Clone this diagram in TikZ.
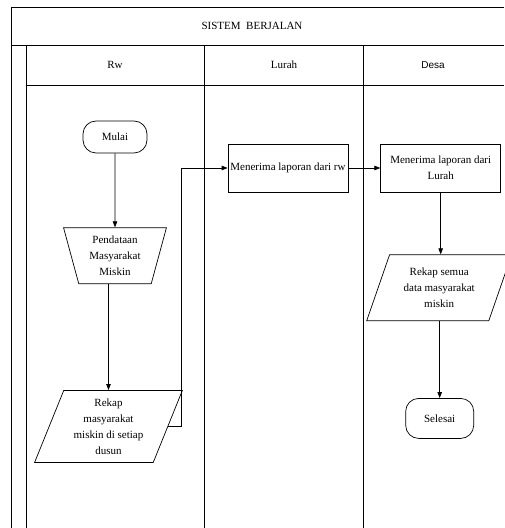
\documentclass[tikz,border=0pt]{standalone}
\usepackage{fontspec}
\setmainfont{Liberation Serif}
\newfontfamily\headsans{Liberation Sans}
\usepackage{tikz}
\usetikzlibrary{positioning, arrows.meta, shapes.geometric, calc}

\begin{document}
\begin{tikzpicture}[
    x=1pt, y=1pt,
    font=\fontsize{11}{16}\selectfont,
    lane/.style={line width=0.9pt},
    box/.style={draw, line width=0.7pt, minimum height=48pt, minimum width=120pt, inner sep=1pt, align=center},
    term/.style={box, rounded corners=13pt},
    manual/.style={box, trapezium, trapezium stretches=true, trapezium left angle=75, trapezium right angle=75, shape border rotate=180},
    io/.style={box, trapezium, trapezium stretches=true, trapezium left angle=68, trapezium right angle=112},
    arr/.style={-{Triangle[length=6pt,width=4.5pt]}, line width=0.7pt},
]
\useasboundingbox (0,0) rectangle (504,528);

% frame and lanes
\draw[lane] (504,521) -- (11,521) -- (11,0);
\draw[lane] (11,483) -- (504,483);
\draw[lane] (26,483) -- (26,0);
\draw[lane] (26,443) -- (504,443);
\draw[lane] (204,483) -- (204,0);
\draw[lane] (363,483) -- (363,0);

\node (title) at (252,502) {SISTEM\ \ BERJALAN};
\node (hrw) at (115,463) {Rw};
\node (hlurah) at (284,463) {Lurah};
\node (hdesa) at (433,463) {\headsans\fontsize{10}{12}\selectfont Desa};

% Rw
\node[term, minimum width=64pt, minimum height=32pt] (mulai) at (115,391) {Mulai};
\node[manual, minimum width=103pt, minimum height=56pt, below=74pt of mulai] (pendataan) {Pendataan\\Masyarakat\\Miskin};
\node[io, minimum width=148pt, minimum height=72pt, below=106pt of pendataan, xshift=-6.5pt] (rekapdusun) {Rekap\\masyarakat\\miskin di setiap\\dusun};

% Lurah
\node[box] (terimarw) at (288,360) {Menerima laporan dari rw};

% Desa
\node[box, right=32pt of terimarw] (terimalurah) {Menerima laporan dari\\Lurah};
\node[io, minimum width=145pt, minimum height=66pt, below=62pt of terimalurah, xshift=-1.5pt] (rekapsemua) {Rekap semua\\data masyarakat\\miskin};
\node[term, minimum width=68pt, minimum height=40pt, below=77pt of rekapsemua, xshift=0.5pt] (selesai) {Selesai};

\draw[arr] (mulai) -- (pendataan);
\draw[arr] (pendataan.south -| rekapdusun.center) -- (rekapdusun.center |- rekapdusun.north);
\draw[arr] (rekapdusun.east) -- ++(13,0) |- (terimarw.west);
\draw[arr] (terimarw) -- (terimalurah);
\draw[arr] (terimalurah.south) -- (terimalurah.south |- rekapsemua.north);
\draw[arr] (rekapsemua.south -| selesai.north) -- (selesai.north);
\end{tikzpicture}
\end{document}
